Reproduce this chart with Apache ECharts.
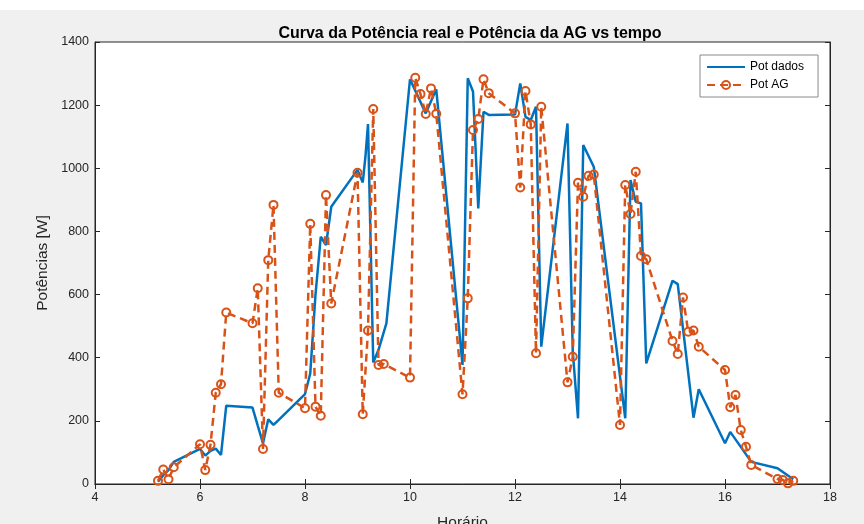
<!DOCTYPE html>
<html>
<head>
<meta charset="utf-8">
<script src="https://cdn.jsdelivr.net/npm/echarts@6/dist/echarts.min.js"></script>
<style>
  html, body { margin: 0; padding: 0; background: #fff; }
  #fig { position: absolute; left: 0; top: 10px; width: 864px; height: 514px; background: #f0f0f0; }
</style>
</head>
<body>
<div id="fig"></div>
<script>
// tempo (h) e potencias
var agTime = [5.2,5.3,5.4,5.5,6.0,6.1,6.2,6.3,6.4,6.5,7.0,7.1,7.2,7.3,7.4,7.5,8.0,8.1,8.2,8.3,8.4,8.5,
    9.0,9.1,9.2,9.3,9.4,9.5,10.0,10.1,10.2,10.3,10.4,10.5,11.0,11.1,11.2,11.3,11.4,11.5,
    12.0,12.1,12.2,12.3,12.4,12.5,13.0,13.1,13.2,13.3,13.4,13.5,14.0,14.1,14.2,14.3,14.4,14.5,
    15.0,15.1,15.2,15.3,15.4,15.5,16.0,16.1,16.2,16.3,16.4,16.5,17.0,17.1,17.2,17.3];
var agPower = [10,46,15,53,126,44,124,289,316,543,509,620,111,709,884,289,240,824,245,216,915,572,
    986,221,486,1188,377,380,337,1287,1235,1172,1253,1173,284,588,1121,1156,1282,1238,
    1174,939,1245,1139,414,1195,322,403,954,910,976,980,187,947,855,989,722,712,
    453,412,591,482,486,435,361,243,282,171,118,60,16,13,2,10];

var dadosTime = [5.2,5.3,5.4,5.5,6.0,6.1,6.2,6.3,6.4,6.5,7.0,7.1,7.2,7.3,7.4,7.5,8.0,8.1,8.2,8.3,8.4,8.5,
    9.0,9.1,9.15,9.2,9.3,9.4,9.55,10.0,10.3,10.5,11.0,11.1,11.2,11.3,11.4,11.5,
    12.0,12.1,12.2,12.3,12.4,12.5,13.0,13.1,13.2,13.3,13.5,14.1,14.2,14.3,14.4,14.5,
    15.0,15.1,15.4,15.5,16.0,16.1,16.5,17.0,17.3];
var dadosPower = [7,28,44,70,111,90,105,112,92,248,242,185,129,205,187,203,285,350,600,783,757,878,
    995,955,1035,1140,385,425,509,1282,1174,1250,377,1285,1243,873,1179,1169,
    1170,1269,1163,1153,1195,435,1142,420,208,1074,1005,208,963,894,889,382,
    644,633,210,300,129,165,70,50,15];

var xTicks = [4, 18, 2];      // min, max, intervalo
var yTicks = [0, 1400, 200];

var seriesDados = dadosTime.map(function (t, i) { return [t, dadosPower[i]]; });
var seriesAG = agTime.map(function (t, i) { return [t, agPower[i]]; });

var myChart = echarts.init(document.getElementById('fig'));
var axisCol = '#262626';
var fnt = 'Liberation Sans, Arial, sans-serif';

var option = {
    backgroundColor: '#f0f0f0',
    animation: false,
    textStyle: { fontFamily: fnt },
    title: {
        text: 'Curva da Potência real e Potência da AG vs tempo',
        left: 465, textAlign: 'center', top: 11,
        textStyle: { fontSize: 16, fontWeight: 'bold', color: '#000', fontFamily: fnt }
    },
    legend: {
        orient: 'vertical',
        left: 700, top: 45,
        padding: [6, 14, 6, 6],
        itemGap: 6,
        itemWidth: 38, itemHeight: 10,
        backgroundColor: '#fff',
        borderColor: '#8a8a8a', borderWidth: 1,
        textStyle: { fontSize: 12, color: '#000', fontFamily: fnt },
        data: [{ name: 'Pot dados', itemStyle: { opacity: 0 } }, { name: 'Pot AG' }]
    },
    grid: {
        left: 95, right: 34, top: 32, bottom: 40,
        outerBoundsMode: 'none',
        show: true, backgroundColor: '#fff', borderColor: axisCol, borderWidth: 1
    },
    xAxis: [{
        type: 'value', min: xTicks[0], max: xTicks[1], interval: xTicks[2],
        name: 'Horário', nameLocation: 'middle', nameGap: 31,
        nameTextStyle: { fontSize: 15.5, color: axisCol },
        axisLine: { onZero: false, lineStyle: { color: axisCol } },
        axisTick: { inside: true, length: 5, lineStyle: { color: axisCol } },
        axisLabel: { fontSize: 12.5, color: axisCol, margin: 7 },
        splitLine: { show: false }
    }, {
        type: 'value', position: 'top', min: xTicks[0], max: xTicks[1], interval: xTicks[2],
        axisLine: { lineStyle: { color: axisCol } },
        axisTick: { inside: true, length: 5, lineStyle: { color: axisCol } },
        axisLabel: { show: false }, splitLine: { show: false }
    }],
    yAxis: [{
        type: 'value', min: yTicks[0], max: yTicks[1], interval: yTicks[2],
        name: 'Potências [W]', nameLocation: 'middle', nameGap: 40,
        nameTextStyle: { fontSize: 15.5, color: axisCol },
        axisLine: { show: true, onZero: false, lineStyle: { color: axisCol } },
        axisTick: { show: true, inside: true, length: 5, lineStyle: { color: axisCol } },
        axisLabel: { fontSize: 12.5, color: axisCol, margin: 6, formatter: function (v) { return String(v); } },
        splitLine: { show: false }
    }, {
        type: 'value', position: 'right', min: yTicks[0], max: yTicks[1], interval: yTicks[2],
        axisLine: { show: true, lineStyle: { color: axisCol } },
        axisTick: { show: true, inside: true, length: 5, lineStyle: { color: axisCol } },
        axisLabel: { show: false }, splitLine: { show: false }
    }],
    series: [{
        name: 'Pot dados',
        type: 'line',
        data: seriesDados,
        symbol: 'none',
        lineStyle: { color: '#0072BD', width: 2.5 },
        itemStyle: { color: '#0072BD' },
        z: 2
    }, {
        name: 'Pot AG',
        type: 'line',
        data: seriesAG,
        symbol: 'circle',
        symbolSize: 8,
        lineStyle: { color: '#D95319', width: 2.5, type: [8, 5] },
        itemStyle: { color: 'rgba(255,255,255,0)', borderColor: '#D95319', borderWidth: 2 },
        z: 3
    }]
};

myChart.setOption(option);
</script>
</body>
</html>
